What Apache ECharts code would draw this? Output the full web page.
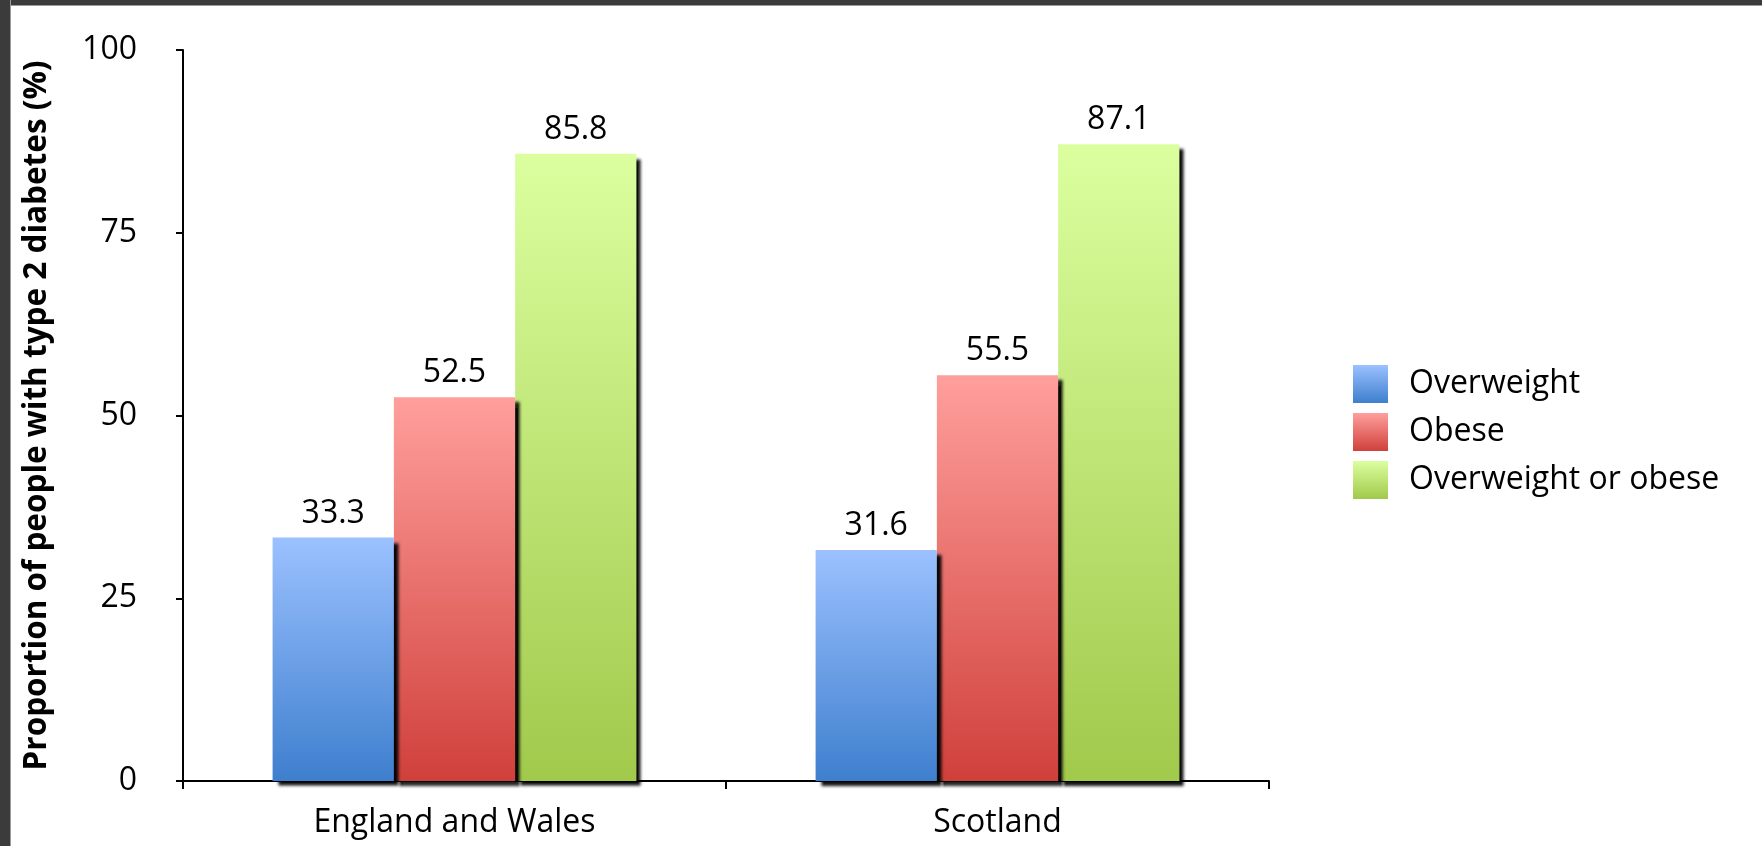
<!DOCTYPE html>
<html>
<head>
<meta charset="utf-8">
<script src="https://cdn.jsdelivr.net/npm/echarts@6/dist/echarts.min.js"></script>
<style>
  html, body { margin: 0; padding: 0; background: #ffffff; }
  #chart { width: 1762px; height: 846px; position: absolute; left: 0; top: 0; }
  .band-top { position: absolute; left: 0; top: 0; width: 1762px; height: 5px; background: #3b3b3b; border-bottom: 1px solid #9a9a9a; }
  .band-left { position: absolute; left: 0; top: 0; width: 10px; height: 846px; background: #3b3b3b; border-right: 1px solid #9a9a9a; }
</style>
</head>
<body>
<div id="chart"></div>
<div class="band-top"></div>
<div class="band-left"></div>
<script>
const categories = ['England and Wales', 'Scotland'];
const seriesNames = ['Overweight', 'Obese', 'Overweight or obese'];
const overweight = [33.3, 31.6];
const obese = [52.5, 55.5];
const overweightOrObese = [85.8, 87.1];
const yTicks = [0, 25, 50, 75, 100];
const yTitle = 'Proportion of people with type 2 diabetes (%)';

const FONT = 'Open Sans';
function grad(top, bottom) {
  return new echarts.graphic.LinearGradient(0, 0, 0, 1, [
    { offset: 0, color: top }, { offset: 1, color: bottom }
  ]);
}
const colors = [
  ['#9BC1FF', '#3E7FCE'],
  ['#FF9F9C', '#D0403B'],
  ['#DBFF9F', '#A1C94B']
];
const values = [overweight, obese, overweightOrObese];

const chart = echarts.init(document.getElementById('chart'), null, { renderer: 'canvas' });
const series = seriesNames.map((name, i) => ({
  name: name,
  type: 'bar',
  data: values[i],
  z: 4 - i,
  barGap: '0%',
  barCategoryGap: '33%',
  itemStyle: {
    color: grad(colors[i][0], colors[i][1]),
    shadowColor: 'rgba(0,0,0,0.95)',
    shadowBlur: 3,
    shadowOffsetX: 5,
    shadowOffsetY: 5
  },
  label: {
    show: true,
    position: 'top',
    distance: 8,
    color: '#000',
    fontFamily: FONT,
    fontSize: 32,
    formatter: p => p.value.toFixed(1)
  }
}));

chart.setOption({
  animation: false,
  backgroundColor: '#ffffff',
  grid: { left: 183, top: 50, right: 493, bottom: 65 },
  legend: {
    data: seriesNames,
    orient: 'vertical',
    left: 1348,
    top: 360,
    itemWidth: 35,
    itemHeight: 38,
    itemGap: 10,
    icon: 'rect',
    textStyle: { fontFamily: FONT, fontSize: 32, color: '#000', padding: [0, 0, 0, 16] },
    itemStyle: { shadowBlur: 0, shadowOffsetX: 0, shadowOffsetY: 0, shadowColor: 'transparent' }
  },
  xAxis: {
    type: 'category',
    data: categories,
    axisLine: { lineStyle: { color: '#000', width: 2 } },
    axisTick: { show: true, length: 8, lineStyle: { color: '#000', width: 2 } },
    axisLabel: { color: '#000', fontFamily: FONT, fontSize: 32, margin: 26 }
  },
  yAxis: {
    type: 'value',
    min: yTicks[0],
    max: yTicks[yTicks.length - 1],
    interval: 25,
    name: yTitle,
    nameLocation: 'middle',
    nameGap: 130,
    nameTextStyle: { color: '#000', fontFamily: FONT, fontSize: 31.5, fontWeight: 'bold' },
    splitLine: { show: false },
    axisLine: { show: true, lineStyle: { color: '#000', width: 2 } },
    axisTick: { show: true, length: 7, lineStyle: { color: '#000', width: 2 } },
    axisLabel: { color: '#000', fontFamily: FONT, fontSize: 32, margin: 46 }
  },
  series: series
});
</script>
</body>
</html>
